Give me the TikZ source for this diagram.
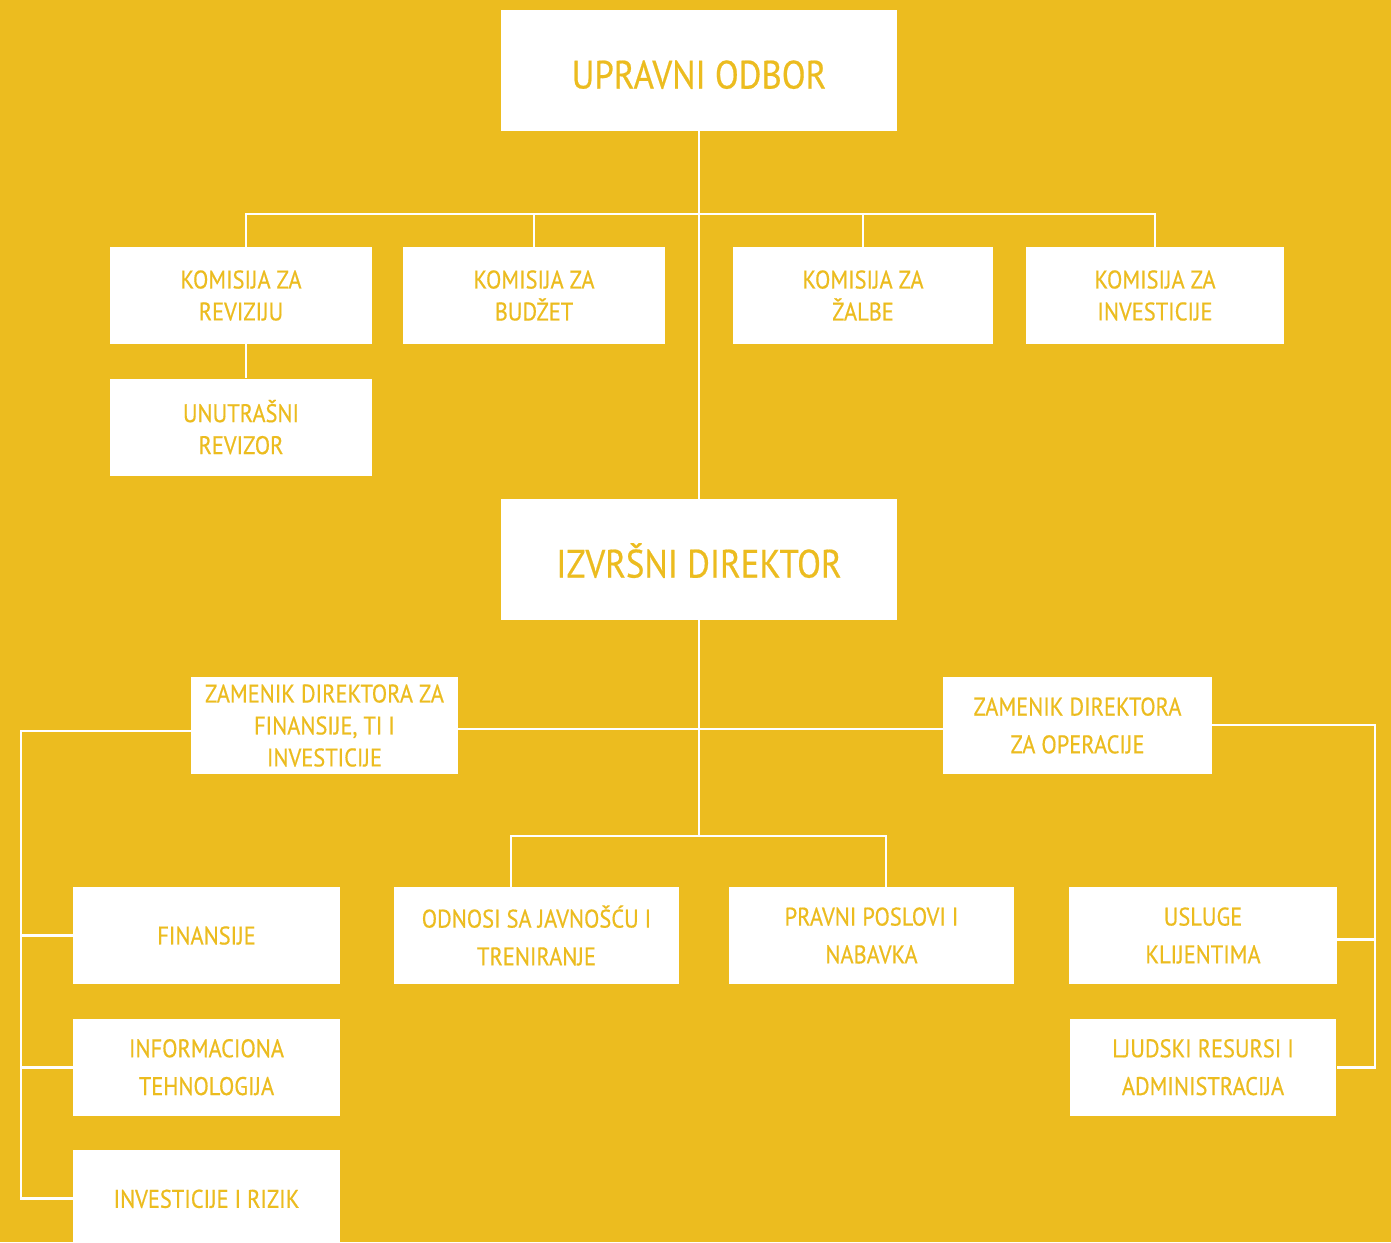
\documentclass[tikz,border=0pt]{standalone}
\usepackage{fontspec}
\setmainfont{PT Sans}[FakeStretch=0.88, FakeBold=0.5]
\usepackage{tikz}
\usetikzlibrary{positioning}
\definecolor{zuta}{RGB}{236,188,31}
\tikzset{
	box/.style={draw=none, fill=white, text=zuta, inner sep=0pt, align=center}, % white boxes with yellow text
	glavni/.style={box, minimum width=7.92cm, minimum height=2.42cm, text height=20.5pt, text depth=0pt, font=\fontsize{22.5}{26}\selectfont}, % the two big boxes
	odsek/.style={box, minimum width=5.24cm, minimum height=1.94cm, font=\fontsize{14.5}{18.2}\selectfont}, % normal boxes
	siroki/.style={font=\fontsize{14.5}{21.5}\selectfont}, % more space between the lines
	veza/.style={draw=white, line width=1.6pt}, % the connecting lines
}
\begin{document}
\begin{tikzpicture}[x=0.02cm, y=-0.02cm]
	\fill[zuta] (0,0) rectangle (1391,1242);
	\useasboundingbox (0,0) rectangle (1391,1242);
	% top
	\node[glavni] (upr) at (699,70.5) {UPRAVNI ODBOR};
	\node[glavni] (izv) at (699,559.5) {IZVRŠNI DIREKTOR};
	% komisije
	\node[odsek] (krev) at (241,295.5) {KOMISIJA ZA\\REVIZIJU};
	\node[odsek] (kbud) at (534,295.5) {KOMISIJA ZA\\BUDŽET};
	\node[odsek, minimum width=5.2cm] (kzal) at (863,295.5) {KOMISIJA ZA\\ŽALBE};
	\node[odsek, minimum width=5.16cm] (kinv) at (1155,295.5) {KOMISIJA ZA\\INVESTICIJE};
	\node[odsek, below=0.68cm of krev] (unut) {UNUTRAŠNI\\REVIZOR};
	% zamenici
	\node[odsek, minimum width=5.34cm] (zfin) at (324.5,725.5) {ZAMENIK DIREKTORA ZA\\FINANSIJE, TI I\\INVESTICIJE};
	\node[odsek, siroki, minimum width=5.38cm] (zops) at (1077.5,725.5) {ZAMENIK DIREKTORA\\ZA OPERACIJE};
	% sektori
	\node[odsek, minimum width=5.34cm] (fin) at (206.5,935.5) {FINANSIJE};
	\node[odsek, siroki, minimum width=5.34cm, below=0.68cm of fin] (it) {INFORMACIONA\\TEHNOLOGIJA};
	\node[odsek, minimum width=5.34cm, below=0.68cm of it] (rizik) {INVESTICIJE I RIZIK};
	\node[odsek, siroki, minimum width=5.7cm] (odn) at (536.5,935.5) {ODNOSI SA JAVNOŠĆU I\\TRENIRANJE};
	\node[odsek, siroki, minimum width=5.7cm] (prav) at (871.5,935.5) {PRAVNI POSLOVI I\\NABAVKA};
	\node[odsek, siroki, minimum width=5.36cm] (usl) at (1203,935.5) {USLUGE\\KLIJENTIMA};
	\node[odsek, siroki, minimum width=5.34cm, below=0.68cm of usl] (ljud) {LJUDSKI RESURSI I\\ADMINISTRACIJA};
	% tacke za linije
	\coordinate (bus1) at (699,214);
	\coordinate (bus1l) at (246,214);
	\coordinate (bus2) at (699,729);
	\coordinate (bus3l) at (511,836);
	\coordinate (bus3r) at (886,836);
	\coordinate (levo) at (21,731);
	\coordinate (desno) at (1375,725);
	% linije
	\draw[veza] (upr.south) -- (izv.north);
	\draw[veza] (bus1l |- krev.north) -- (bus1l) -| (kinv.north);
	\draw[veza] (kbud.north) -- (kbud.north |- bus1);
	\draw[veza] (kzal.north) -- (kzal.north |- bus1);
	\draw[veza] (bus1l |- krev.south) -- (bus1l |- unut.north);
	\draw[veza] (izv.south) -- (izv.south |- bus3l);
	\draw[veza] (zfin.east |- bus2) -- (zops.west |- bus2);
	\draw[veza] (bus3l |- odn.north) -- (bus3l) -- (bus3r) -- (bus3r |- prav.north);
	\draw[veza] (zfin.west |- levo) -- (levo) |- (rizik.west);
	\draw[veza] (levo |- fin.west) -- (fin.west);
	\draw[veza] (levo |- it.west) -- (it.west);
	\draw[veza] (zops.east |- desno) -- (desno) |- (ljud.east);
	\draw[veza] ([yshift=-0.08cm]usl.east) -- ([yshift=-0.08cm]usl.east -| desno);
\end{tikzpicture}
\end{document}
